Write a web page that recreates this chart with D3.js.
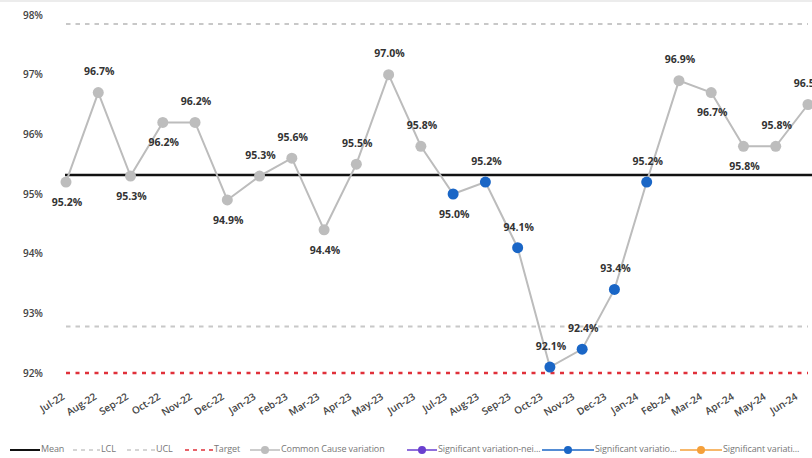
<!DOCTYPE html>
<html>
<head>
<meta charset="utf-8">
<script src="https://cdn.jsdelivr.net/npm/d3@7"></script>
<style>
  html, body { margin: 0; padding: 0; background: #fff; }
  svg { display: block; font-family: "Open Sans", "Noto Sans", sans-serif; }
</style>
</head>
<body>
<svg id="chart" width="812" height="458"></svg>
<script>
// Monthly performance (SPC chart)
const months = ["Jul-22","Aug-22","Sep-22","Oct-22","Nov-22","Dec-22","Jan-23","Feb-23","Mar-23","Apr-23","May-23","Jun-23",
                "Jul-23","Aug-23","Sep-23","Oct-23","Nov-23","Dec-23","Jan-24","Feb-24","Mar-24","Apr-24","May-24","Jun-24"];
const values = [95.2, 96.7, 95.3, 96.2, 96.2, 94.9, 95.3, 95.6, 94.4, 95.5, 97.0, 95.8,
                95.0, 95.2, 94.1, 92.1, 92.4, 93.4, 95.2, 96.9, 96.7, 95.8, 95.8, 96.5];
// "common" = common cause variation, "low" = significant variation (concerning, low)
const variation = ["common","common","common","common","common","common","common","common","common","common","common","common",
                   "low","low","low","low","low","low","low","common","common","common","common","common"];
const meanValue = 95.32;
const ucl = 97.85;
const lcl = 92.78;
const target = 92.0;
const yTicks = [92, 93, 94, 95, 96, 97, 98];
// months whose value label sits under the marker
const labelsBelow = ["Jul-22","Sep-22","Oct-22","Dec-22","Mar-23","Jul-23","Mar-24","Apr-24"];

const legendItems = [
  {label: "Mean", kind: "line", color: "#111", dash: null},
  {label: "LCL", kind: "line", color: "#c8c8c8", dash: "4,4"},
  {label: "UCL", kind: "line", color: "#c8c8c8", dash: "4,4"},
  {label: "Target", kind: "line", color: "#e0303a", dash: "4,4"},
  {label: "Common Cause variation", kind: "marker", color: "#bdbdbd"},
  {label: "Significant variation-nei...", kind: "marker", color: "#6a3fcf"},
  {label: "Significant variatio...", kind: "marker", color: "#1a66c6"},
  {label: "Significant variati...", kind: "marker", color: "#f5a03a"}
];

const colors = { common: "#bdbdbd", low: "#1a66c6" };

const svg = d3.select("#chart");

// faint frame edge at the top
svg.append("rect").attr("x", 0).attr("y", 0).attr("width", 812).attr("height", 2).attr("fill", "#ececec");

const x = d3.scalePoint().domain(months).range([66, 808]).padding(0);
// category labels run on a slightly narrower band than the markers
const xLabel = d3.scalePoint().domain(months).range([61, 794]).padding(0);
const y = d3.scaleLinear().domain([92, 98]).range([373, 15]);

// Y axis labels (no axis line)
const yAxis = d3.axisLeft(y).tickValues(yTicks).tickFormat(d => d + "%").tickSize(0).tickPadding(0);
const gy = svg.append("g").attr("transform", "translate(43,0)").call(yAxis);
gy.select(".domain").remove();
gy.selectAll("text")
  .attr("fill", "#444").attr("font-size", "10px").attr("font-weight", "600")
  .attr("font-family", "'Open Sans', sans-serif");

// X axis labels (rotated)
const xAxis = d3.axisBottom(xLabel).tickSize(0).tickPadding(0);
const gx = svg.append("g").attr("transform", "translate(0,392)").call(xAxis);
gx.select(".domain").remove();
gx.selectAll("text")
  .attr("fill", "#444").attr("font-size", "10px").attr("font-weight", "600")
  .attr("font-family", "'Open Sans', sans-serif")
  .attr("text-anchor", "end")
  .attr("dy", "0.75em")
  .attr("transform", "rotate(-32)");

const [x0, x1] = x.range();

// Control limits and target
const refLines = [
  {v: ucl, color: "#c8c8c8", width: 2, dash: "4.5,5"},
  {v: lcl, color: "#c8c8c8", width: 2, dash: "4.5,5"},
  {v: target, color: "#e0303a", width: 2.5, dash: "4,5.5"},
  {v: meanValue, color: "#111", width: 2.5, dash: null}
];
svg.append("g").selectAll("line").data(refLines).join("line")
  .attr("x1", d => d.dash ? x0 : x0 - 1).attr("x2", d => d.dash ? x1 : 812)
  .attr("y1", d => y(d.v)).attr("y2", d => y(d.v))
  .attr("stroke", d => d.color).attr("stroke-width", d => d.width)
  .attr("stroke-dasharray", d => d.dash);

const data = months.map((m, i) => ({month: m, value: values[i], type: variation[i]}));

// Series line
const line = d3.line().x(d => x(d.month)).y(d => y(d.value));
svg.append("path").datum(data)
  .attr("fill", "none").attr("stroke", "#bcbcbc").attr("stroke-width", 2)
  .attr("d", line);

// Markers
svg.append("g").selectAll("circle").data(data).join("circle")
  .attr("cx", d => x(d.month)).attr("cy", d => y(d.value)).attr("r", 5.5)
  .attr("fill", d => colors[d.type]);

// Value labels
svg.append("g").selectAll("text").data(data).join("text")
  .attr("x", d => x(d.month) + 1)
  .attr("y", d => y(d.value) + (labelsBelow.includes(d.month) ? 21 : -20))
  .attr("text-anchor", "middle").attr("dominant-baseline", "middle")
  .attr("font-size", "10.5px").attr("font-weight", "700").attr("fill", "#333")
  .text(d => d.value.toFixed(1) + "%");

// Legend
const legendX = [10, 73, 127, 185, 250, 407, 542, 680];
const legendW = [30, 27, 28, 28, 30, 30, 52, 42];
const ly = 450;
const lg = svg.append("g");
legendItems.forEach((it, i) => {
  const g = lg.append("g").attr("transform", `translate(${legendX[i]},${ly})`);
  const w = legendW[i];
  if (it.kind === "line") {
    g.append("line").attr("x1", 0).attr("x2", w).attr("y1", 0).attr("y2", 0)
      .attr("stroke", it.color).attr("stroke-width", it.label === "Mean" ? 2 : 1.5)
      .attr("stroke-dasharray", it.dash);
  } else {
    g.append("line").attr("x1", 0).attr("x2", w).attr("y1", 0).attr("y2", 0)
      .attr("stroke", it.color).attr("stroke-width", 1.5);
    g.append("circle").attr("cx", w / 2).attr("cy", 0).attr("r", 4).attr("fill", it.color);
  }
  g.append("text").attr("x", w + 1).attr("y", 0).attr("dominant-baseline", "middle")
    .attr("font-size", "9px").attr("letter-spacing", "-0.1px").attr("fill", "#777").text(it.label);
});
</script>
</body>
</html>
